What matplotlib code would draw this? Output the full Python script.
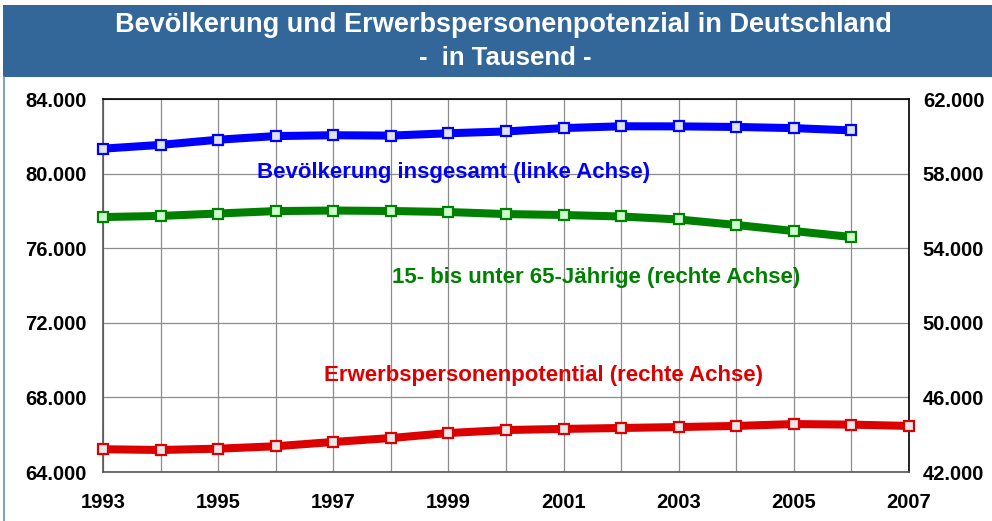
import matplotlib
matplotlib.use("Agg")
import matplotlib.pyplot as plt
from matplotlib.patches import Rectangle
from matplotlib.lines import Line2D
from matplotlib.ticker import FuncFormatter

plt.rcParams['font.family'] = ['Liberation Sans', 'DejaVu Sans']

years_long = [1993, 1994, 1995, 1996, 1997, 1998, 1999, 2000, 2001, 2002, 2003, 2004, 2005, 2006, 2007]
years = years_long[:14]
bevoelkerung = [81338, 81539, 81817, 82012, 82057, 82037, 82163, 82260, 82440, 82537, 82532, 82501, 82438, 82315]
erwerbsfaehige = [55670, 55730, 55860, 55990, 56020, 55995, 55940, 55830, 55780, 55700, 55540, 55245, 54920, 54600]
epp = [43220, 43180, 43250, 43380, 43610, 43820, 44090, 44250, 44310, 44360, 44410, 44470, 44570, 44540, 44470]

x_ticks = [1993, 1995, 1997, 1999, 2001, 2003, 2005, 2007]
left_ticks = [64000, 68000, 72000, 76000, 80000, 84000]
right_ticks = [42000, 46000, 50000, 54000, 58000, 62000]

title1 = "Bevölkerung und Erwerbspersonenpotenzial in Deutschland"
title2 = "-  in Tausend -"
lab_bev = "Bevölkerung insgesamt (linke Achse)"
lab_erw = "15- bis unter 65-Jährige (rechte Achse)"
lab_epp = "Erwerbspersonenpotential (rechte Achse)"

W, H = 992, 521
fig = plt.figure(figsize=(W / 100, H / 100), dpi=100)
fig.patch.set_facecolor('white')

# title band
band_col = '#336699'
fig.patches.append(Rectangle((3 / W, 1 - 77 / H), 1 - 3 / W, 72 / H, transform=fig.transFigure,
                             facecolor=band_col, edgecolor='none', zorder=0))
fig.lines.append(Line2D([3.5 / W, 3.5 / W], [0, 1 - 77 / H], transform=fig.transFigure,
                        color='#6a8fb8', lw=1.2))
fig.text(503 / W, 1 - 25 / H, title1, color='white', fontsize=19.5, fontweight='bold',
         ha='center', va='center')
fig.text(505 / W, 1 - 58 / H, title2, color='white', fontsize=18.5, fontweight='bold',
         ha='center', va='center')

l, r, t, b = 103, 909, 99, 472
ax = fig.add_axes([l / W, 1 - b / H, (r - l) / W, (b - t) / H])
ax.set_xlim(years_long[0], years_long[-1])
ax.set_ylim(left_ticks[0], left_ticks[-1])
ax2 = ax.twinx()
ax2.set_ylim(right_ticks[0], right_ticks[-1])

fmt = FuncFormatter(lambda v, p: f"{int(round(v)):,}".replace(",", "."))
ax.set_yticks(left_ticks)
ax2.set_yticks(right_ticks)
for a in (ax, ax2):
    a.yaxis.set_major_formatter(fmt)
ax.set_xticks(x_ticks)
ax.set_xticks(years_long, minor=True)
ax.xaxis.set_major_formatter(FuncFormatter(lambda v, p: f"{int(v)}"))
ax.grid(True, which='both', axis='x', color='#8c8c8c', lw=0.9)
ax.grid(True, which='major', axis='y', color='#8c8c8c', lw=0.9)
ax.set_axisbelow(True)

ax.tick_params(axis='x', which='both', length=0, pad=15, labelsize=14.5)
ax.tick_params(axis='y', length=0, pad=11.5, labelsize=14.5)
ax2.tick_params(axis='y', length=0, pad=10, labelsize=14.5)
for a in (ax, ax2):
    for lab in a.get_xticklabels() + a.get_yticklabels():
        lab.set_fontweight('bold')
for sp in ax2.spines.values():
    sp.set_visible(False)
ax.spines['left'].set_color('#555555')
ax.spines['bottom'].set_color('#555555')
ax.spines['top'].set_color('black')
ax.spines['right'].set_color('black')
for sp in ax.spines.values():
    sp.set_linewidth(1.2)

lw = 5.8
ms = 7.8
ax.plot(years, bevoelkerung, color='#0000ff', lw=lw, marker='s', ms=ms,
        mfc='#dde2ec', mec='#0000ff', mew=1.6, zorder=5, clip_on=False)
ax2.plot(years, erwerbsfaehige, color='#008000', lw=lw, marker='s', ms=ms,
         mfc='#ccffcc', mec='#008000', mew=1.6, zorder=5, clip_on=False)
ax2.plot(years_long, epp, color='#dd0000', lw=lw, marker='s', ms=ms,
         mfc='#e8e8e8', mec='#dd0000', mew=1.6, zorder=5, clip_on=False)

fig.text(454 / W, 1 - 172 / H, lab_bev, color='#0000ff', fontsize=16, fontweight='bold',
         ha='center', va='center')
fig.text(596 / W, 1 - 278 / H, lab_erw, color='#008000', fontsize=16, fontweight='bold',
         ha='center', va='center')
fig.text(543 / W, 1 - 376 / H, lab_epp, color='#dd0000', fontsize=16, fontweight='bold',
         ha='center', va='center')

fig.savefig("out.png", dpi=100)
